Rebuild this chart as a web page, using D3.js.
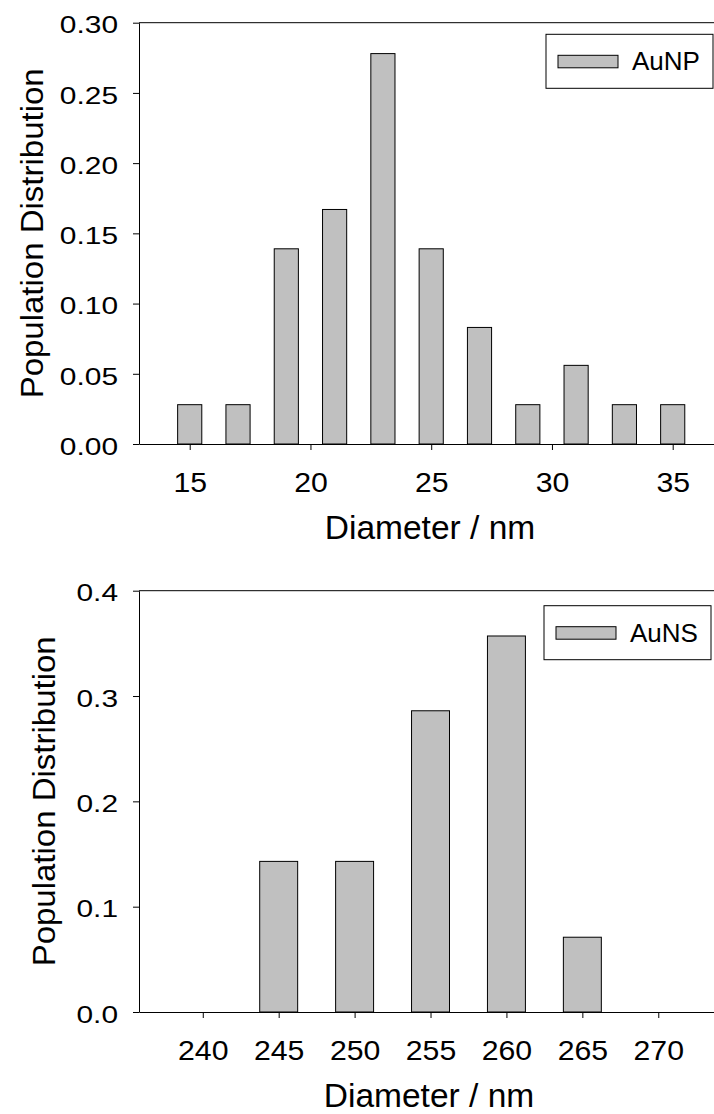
<!DOCTYPE html>
<html>
<head>
<meta charset="utf-8">
<title>Size distribution</title>
<script src="https://d3js.org/d3.v7.min.js"></script>
<style>
  body { margin: 0; background: #fff; }
  svg { display: block; font-family: "Liberation Sans", Arial, sans-serif; }
  .axis path, .axis line { stroke: #000; stroke-width: 1; }
  .bar { fill: #c0c0c0; stroke: #000; stroke-width: 1; }
</style>
</head>
<body>
<div id="chart"></div>
<script>

// AuNP panel
var aunpDiameter = [15, 17, 19, 21, 23, 25, 27, 29, 31, 33, 35];
var aunpFraction = [0.028, 0.028, 0.139, 0.167, 0.278, 0.139, 0.083, 0.028, 0.056, 0.028, 0.028];
var aunpXTicks = [15, 20, 25, 30, 35];
var aunpYTicks = [0, 0.05, 0.10, 0.15, 0.20, 0.25, 0.30];

// AuNS panel
var ausnDiameter = [240, 245, 250, 255, 260, 265, 270];
var ausnFraction = [0, 0.143, 0.143, 0.286, 0.357, 0.071, 0];
var ausnXTicks = [240, 245, 250, 255, 260, 265, 270];
var ausnYTicks = [0, 0.1, 0.2, 0.3, 0.4];

var W = 714, H = 1114;

var svg = d3.select("#chart").append("svg")
    .attr("width", W).attr("height", H);

// stretch a text to a wider look, like the source figure
function widen(sel, k) {
  sel.each(function() {
    var len = this.getComputedTextLength();
    d3.select(this).attr("textLength", len * k).attr("lengthAdjust", "spacingAndGlyphs");
  });
}

function drawPanel(p) {
  var x = d3.scaleLinear().domain(p.xDomain).range([139, p.xRight]);
  var y = d3.scaleLinear().domain(p.yDomain).range([p.bottom, p.top]);

  var g = svg.append("g");

  g.selectAll(".bar")
    .data(p.xs.map(function(d, i) { return {x: d, v: p.vs[i]}; }))
    .enter().append("rect")
      .attr("class", "bar")
      .attr("x", function(d) { return x(d.x - p.barW / 2); })
      .attr("width", function(d) { return x(d.x + p.barW / 2) - x(d.x - p.barW / 2); })
      .attr("y", function(d) { return y(d.v); })
      .attr("height", function(d) { return y(0) - y(d.v); });

  // frame: top and right lines
  g.append("line").attr("x1", x.range()[0]).attr("x2", x.range()[1])
    .attr("y1", y.range()[1]).attr("y2", y.range()[1])
    .attr("stroke", "#000");
  g.append("line").attr("x1", x.range()[1]).attr("x2", x.range()[1])
    .attr("y1", y.range()[1]).attr("y2", y.range()[0])
    .attr("stroke", "#000");

  var xa = g.append("g").attr("class", "axis")
    .attr("transform", "translate(0," + p.bottom + ")")
    .call(d3.axisBottom(x).tickValues(p.xTicks).tickSize(6).tickSizeOuter(0).tickFormat(d3.format("d")));
  xa.selectAll("text")
    .attr("y", 48).attr("dy", 0)
    .style("font-size", "28px").style("font-family", "Liberation Sans, Arial, sans-serif")
    .attr("fill", "#000")
    .call(widen, 1.08);

  var ya = g.append("g").attr("class", "axis")
    .attr("transform", "translate(139,0)")
    .call(d3.axisLeft(y).tickValues(p.yTicks).tickSize(6).tickSizeOuter(0).tickPadding(15).tickFormat(d3.format(p.yFmt)));
  ya.selectAll("text")
    .attr("dy", "0.42em")
    .style("font-size", "24.5px").style("font-family", "Liberation Sans, Arial, sans-serif")
    .attr("fill", "#000")
    .call(widen, 1.22);

  g.append("text")
    .attr("x", (x.range()[0] + x.range()[1]) / 2)
    .attr("y", p.bottom + 95)
    .attr("text-anchor", "middle")
    .style("font-size", "33.5px")
    .text("Diameter / nm");

  g.append("text")
    .attr("transform", "translate(" + p.yTitleX + "," + ((p.top + p.bottom) / 2) + ") rotate(-90)")
    .attr("text-anchor", "middle")
    .style("font-size", "31px")
    .attr("textLength", 330).attr("lengthAdjust", "spacingAndGlyphs")
    .text("Population Distribution");

  // legend
  var L = p.legend;
  var lg = g.append("g").attr("transform", "translate(" + L.x + "," + L.y + ")");
  lg.append("rect").attr("width", 167).attr("height", 54)
    .attr("fill", "#fff").attr("stroke", "#000").attr("stroke-width", 1);
  lg.append("rect").attr("class", "bar").attr("x", 12).attr("y", 21).attr("width", 60).attr("height", 12.5);
  lg.append("text").attr("x", 86).attr("y", 36)
    .style("font-size", "26px").text(p.name);
}

drawPanel({
  name: "AuNP", xs: aunpDiameter, vs: aunpFraction, xTicks: aunpXTicks, yTicks: aunpYTicks,
  xDomain: [12.9, 37], xRight: 721, yDomain: [0, 0.30], top: 22.7, bottom: 444,
  barW: 1, yFmt: ".2f", yTitleX: 43, legend: {x: 546, y: 34.3}
});

drawPanel({
  name: "AuNS", xs: ausnDiameter, vs: ausnFraction, xTicks: ausnXTicks, yTicks: ausnYTicks,
  xDomain: [235.8, 274], xRight: 719, yDomain: [0, 0.4], top: 590.7, bottom: 1012,
  barW: 2.5, yFmt: ".1f", yTitleX: 55, legend: {x: 544, y: 605.7}
});

</script>
</body>
</html>
